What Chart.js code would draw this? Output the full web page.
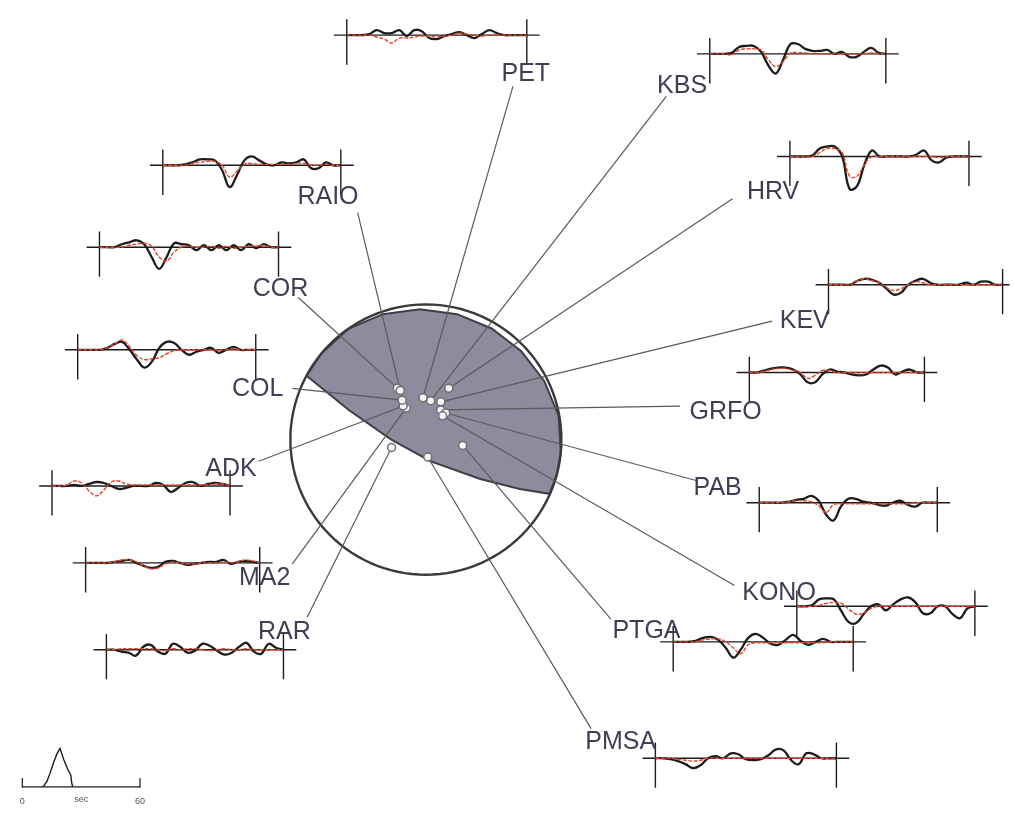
<!DOCTYPE html>
<html>
<head>
<meta charset="utf-8">
<script src="https://cdn.jsdelivr.net/npm/chart.js@4.4.1/dist/chart.umd.min.js"></script>
<style>
  html, body { margin: 0; padding: 0; background: #fff; }
  #wrap { width: 1015px; height: 818px; position: relative; }
</style>
</head>
<body>
<div id="wrap"><canvas id="chart"></canvas></div>
<script>
// stations and their position on the focal sphere (azimuth deg, radius as fraction of the ball)
const stations = ["PET", "KBS", "HRV", "KEV", "GRFO", "PAB", "KONO", "PTGA", "PMSA", "RAR", "MA2", "ADK", "COL", "COR", "RAIO"];
const stationAzimuth = [356, 7, 24, 21.5, 26.5, 36.5, 35, 99, 174, 257, 328, 326, 329, 331, 332.5];
const stationRadius = [0.31, 0.29, 0.415, 0.3, 0.245, 0.245, 0.215, 0.275, 0.13, 0.26, 0.275, 0.3, 0.34, 0.435, 0.41];

// nodal plane traces (unit ball coords, y up)
const nodalPlaneAX = [-0.883, -0.569, -0.255, 0.036, 0.401, 0.693, 0.912];
const nodalPlaneAY = [0.474, 0.219, 0, -0.161, -0.292, -0.365, -0.401];
const nodalPlaneBX = [-0.880, -0.772, -0.572, -0.318, -0.044, 0.230, 0.485, 0.704, 0.873, 0.979, 0.996, 0.964, 0.916];
const nodalPlaneBY = [0.475, 0.636, 0.820, 0.928, 0.964, 0.928, 0.822, 0.653, 0.434, 0.179, -0.093, -0.269, -0.401];

// observed (black) and synthetic (red) waveforms, 25 samples each
const obsPET = [0,0,0,1,5,2,2,5,-1,5,4,-3,-4,-1,1,3,0,-3,1,5,2,0,0,0,0];
const synPET = [0,0,0,0,-2,-4,-8,-3,-3,-2,-1,-1,-2,-1,0,2,1,0,-1,0,0,0,0,0,0];
const obsKBS = [0,0,0,1,7,8,8,2,-12,-20,-6,10,10,5,3,3,4,0,2,-3,-3,2,6,1,0];
const synKBS = [0,0,0,-1,4,5,5,4,-6,-13,-8,1,1,1,0,0,0,0,0,0,0,0,1,0,0];
const obsHRV = [0,0,0,1,8,10,10,0,-33,-30,-8,6,0,0,0,0,0,2,6,-4,-6,-1,0,0,0];
const synHRV = [0,0,0,0,4,8,8,4,-20,-20,-8,0,0,0,0,0,0,0,0,0,-1,0,0,0,0];
const obsKEV = [0,0,0,0,4,6,5,2,-4,-10,-8,0,4,6,2,0,0,0,0,2,0,3,3,0,0];
const synKEV = [0,0,0,0,4,6,4,2,-3,-6,-4,0,3,2,0,0,0,0,0,0,0,0,0,0,0];
const obsGRFO = [0,0,2,4,5,5,3,-2,-10,-10,-2,3,1,0,-2,-3,-2,3,7,5,-2,1,3,0,0];
const synGRFO = [0,0,1,3,4,4,2,0,-6,-3,2,2,0,0,0,0,0,0,0,0,0,0,0,0,0];
const obsPAB = [0,0,0,0,1,3,4,7,2,-12,-18,-4,4,4,1,0,-2,-3,0,2,-2,-4,0,0,0];
const synPAB = [0,0,0,0,1,2,2,1,-3,-10,-2,-1,-1,-1,-1,-1,-1,-1,-1,-1,-1,0,0,0,0];
const obsKONO = [0,0,1,7,8,7,-5,-16,-17,-8,0,2,-4,2,7,9,4,-7,-7,0,0,-8,-12,-2,0];
const synKONO = [0,0,0,1,3,4,3,-3,-8,-7,-2,0,0,0,0,0,0,0,0,0,0,0,0,0,0];
const obsPTGA = [0,0,0,1,4,5,2,-6,-16,-8,4,8,4,-2,-3,2,7,1,-3,0,3,0,0,0,0];
const synPTGA = [0,0,0,0,2,3,3,0,-6,-12,-3,-1,-1,-1,-1,-1,-1,-1,-1,-1,-1,0,0,0,0];
const obsPMSA = [0,0,-1,-3,-6,-10,-7,0,2,0,5,4,-1,-2,-1,3,9,8,-2,-6,5,4,0,0,0];
const synPMSA = [0,0,0,-1,-2,-3,-2,0,0,0,0,0,0,0,0,0,0,0,0,0,0,0,0,0,0];
const obsRAR = [0,0,-2,-3,-6,3,5,-2,-4,6,3,-3,-1,6,4,-1,-5,-3,3,7,-2,-4,6,2,0];
const synRAR = [0,0,1,1,1,1,1,0,-1,1,0,1,1,0,-1,0,1,0,0,1,0,0,0,0,0];
const obsMA2 = [0,0,0,0,1,2,3,0,-3,-5,-4,1,2,0,-2,-1,0,1,1,3,-1,1,2,1,0];
const synMA2 = [0,0,0,0,1,3,3,1,-3,-6,-5,-1,1,0,-1,-1,0,0,0,1,0,1,3,2,0];
const obsADK = [0,0,0,1,0,2,4,3,0,-3,-2,0,0,0,3,1,-6,-2,3,4,0,2,3,2,0];
const synADK = [0,0,1,5,3,-5,-10,-4,4,5,2,1,1,1,1,1,1,1,1,1,1,1,2,2,0];
const obsCOL = [0,0,0,0,2,6,8,0,-10,-18,-12,2,8,7,0,-5,-2,0,2,-3,0,3,0,0,0];
const synCOL = [0,0,0,0,2,6,10,3,-6,-10,-9,-8,-4,-1,0,0,0,0,0,0,0,1,0,0,0];
const obsCOR = [0,0,0,3,5,7,3,-10,-22,-10,4,3,2,-3,2,-3,2,-3,2,-3,3,-1,3,0,0];
const synCOR = [0,0,0,0,2,3,4,1,-10,-14,-5,0,1,0,0,1,-1,1,-1,0,1,1,2,0,0];
const obsRAIO = [0,0,0,1,3,6,6,5,-5,-22,-10,5,9,5,1,0,3,2,3,6,-3,-3,3,0,0];
const synRAIO = [0,0,0,0,2,3,4,4,0,-12,-6,1,2,1,1,1,1,1,2,2,0,0,1,0,0];

const observed = [obsPET, obsKBS, obsHRV, obsKEV, obsGRFO, obsPAB, obsKONO, obsPTGA, obsPMSA, obsRAR, obsMA2, obsADK, obsCOL, obsCOR, obsRAIO];
const synthetic = [synPET, synKBS, synHRV, synKEV, synGRFO, synPAB, synKONO, synPTGA, synPMSA, synRAR, synMA2, synADK, synCOL, synCOR, synRAIO];

// source time function (seconds, relative amplitude)
const stfTime = [10.6, 12.6, 14.1, 16.1, 17.6, 19.2, 21.2, 23.2, 24.7, 25.2, 25.7];
const stfAmp = [0, 0.15, 0.35, 0.65, 0.85, 1, 0.7, 0.45, 0.3, 0.1, 0];
const stfAxisLabels = ["0", "sec", "60"];

// ---- layout ----
const BALL = { cx: 425, cy: 440, r: 137 };
const labelPos = [[526,68],[684,80],[776,187],[808,318],[728,410],[720,487],[782,594],[648,632],[622,745],[282,633],[262,578],[228,468],[255,387],[278,285],[326,192]];
const lineEnd = [[513,82],[668,92],[735,196],[775,320],[682,406],[700,482],[737,588],[612,622],[592,733],[305,620],[290,566],[256,462],[290,388],[296,296],[356,210]];
// left cross x, right cross x, baseline y
const traceBox = [[345,527,30],[712,890,49],[793,974,153],[832,1008,283],[752,929,372],[762,942,504],[800,980,609],[675,857,645],[657,840,763],[102,281,653],[81,257,565],[47,227,487],[73,253,349],[95,276,245],[159,339,162]];
const TICK_UP = 16, TICK_DOWN = 30, BASE_EXT = 13, AMP = 1;
const STF = { x0: 17, x1: 136, y: 792, h: 39, span: 60 };

const INK = "#1c1c1c";
const RED = "#e0472c";
const GREYLINE = "#5a5a5a";

const ballPt = (nx, ny) => ({ x: BALL.cx + nx * BALL.r, y: BALL.cy - ny * BALL.r });
const datasets = [];
function addLine(data, opts) {
  datasets.push(Object.assign({ data, showLine: true, pointRadius: 0, borderWidth: 1, borderColor: INK, fill: false, tension: 0 }, opts || {}));
}

// shaded compressional quadrant: fill between plane B (upper) and plane A (lower)
const bPts = nodalPlaneBX.map((v, i) => ballPt(v, nodalPlaneBY[i]));
let iMax = 0;
bPts.forEach((p, i) => { if (p.x > bPts[iMax].x) iMax = i; });
const upper = bPts.slice(0, iMax + 1);
const lower = nodalPlaneAX.map((v, i) => ballPt(v, nodalPlaneAY[i])).concat(bPts.slice(iMax).reverse().slice(1));
addLine(upper, { borderColor: "#3f3d48", borderWidth: 2, backgroundColor: "#8f8a9c", fill: "+1" });
addLine(lower, { borderColor: "#3f3d48", borderWidth: 2 });

// outer circle
const circle = [];
for (let a = 0; a <= 360; a += 3) circle.push(ballPt(Math.sin(a * Math.PI / 180), Math.cos(a * Math.PI / 180)));
addLine(circle, { borderColor: "#3a3a3a", borderWidth: 2.4 });

// station dots
const dots = stations.map((s, i) => {
  const a = stationAzimuth[i] * Math.PI / 180;
  return ballPt(stationRadius[i] * Math.sin(a), stationRadius[i] * Math.cos(a));
});

// connectors
dots.forEach((d, i) => addLine([d, { x: lineEnd[i][0], y: lineEnd[i][1] }], { borderColor: GREYLINE, borderWidth: 1.2 }));

// waveforms
stations.forEach((s, i) => {
  const [x0, x1, y0] = traceBox[i];
  addLine([{ x: x0 - BASE_EXT, y: y0 }, { x: x1 + BASE_EXT, y: y0 }], { borderWidth: 1.4 });
  addLine([{ x: x0, y: y0 - TICK_UP }, { x: x0, y: y0 + TICK_DOWN }], { borderWidth: 1.4 });
  addLine([{ x: x1, y: y0 - TICK_UP }, { x: x1, y: y0 + TICK_DOWN }], { borderWidth: 1.4 });
  const dx = (x1 - x0) / (observed[i].length - 1);
  addLine(observed[i].map((v, k) => ({ x: x0 + k * dx, y: y0 - v * AMP })), { borderWidth: 2.3, tension: 0.4 });
  addLine(synthetic[i].map((v, k) => ({ x: x0 + k * dx, y: y0 - v * AMP })), { borderColor: RED, borderWidth: 1.4, tension: 0.4, borderDash: [4, 1.5] });
});

// source time function scale
const pxPerSec = (STF.x1 - STF.x0) / STF.span;
addLine([{ x: STF.x0, y: STF.y }, { x: STF.x1, y: STF.y }], { borderWidth: 1.2 });
addLine([{ x: STF.x0, y: STF.y - 9 }, { x: STF.x0, y: STF.y + 1 }], { borderWidth: 1.2 });
addLine([{ x: STF.x1, y: STF.y - 9 }, { x: STF.x1, y: STF.y + 1 }], { borderWidth: 1.2 });
addLine(stfTime.map((t, k) => ({ x: STF.x0 + t * pxPerSec, y: STF.y - stfAmp[k] * STF.h })), { borderWidth: 1.4 });

// dots on top
datasets.push({ data: dots, showLine: false, pointRadius: 4, pointBackgroundColor: "#f4f4f4", pointBorderColor: "#6f6c78", pointBorderWidth: 1.5 });

datasets.forEach((d, i) => { d.order = datasets.length - i; });

const labelPlugin = {
  id: "stationLabels",
  afterDatasetsDraw(chart) {
    const { ctx, scales: { x, y } } = chart;
    ctx.save();
    ctx.font = '25px "Liberation Sans", Arial, sans-serif';
    ctx.fillStyle = "#403d55";
    ctx.textAlign = "center";
    ctx.textBaseline = "alphabetic";
    stations.forEach((s, i) => ctx.fillText(s, x.getPixelForValue(labelPos[i][0]), y.getPixelForValue(labelPos[i][1] + 9)));
    ctx.font = '9px "Liberation Sans", Arial, sans-serif';
    ctx.fillStyle = "#555";
    const ly = y.getPixelForValue(STF.y + 17);
    ctx.fillText(stfAxisLabels[0], x.getPixelForValue(STF.x0), ly);
    ctx.fillText(stfAxisLabels[1], x.getPixelForValue(STF.x0 + 30 * pxPerSec), ly - 2);
    ctx.fillText(stfAxisLabels[2], x.getPixelForValue(STF.x1), ly);
    ctx.restore();
  }
};

new Chart(document.getElementById("chart"), {
  type: "scatter",
  data: { datasets },
  options: {
    responsive: true,
    maintainAspectRatio: false,
    animation: false,
    layout: { padding: 0 },
    scales: {
      x: { type: "linear", min: 0, max: 1015, display: false },
      y: { type: "linear", min: 0, max: 818, reverse: true, display: false }
    },
    plugins: { legend: { display: false }, tooltip: { enabled: false } }
  },
  plugins: [labelPlugin]
});
</script>
</body>
</html>
